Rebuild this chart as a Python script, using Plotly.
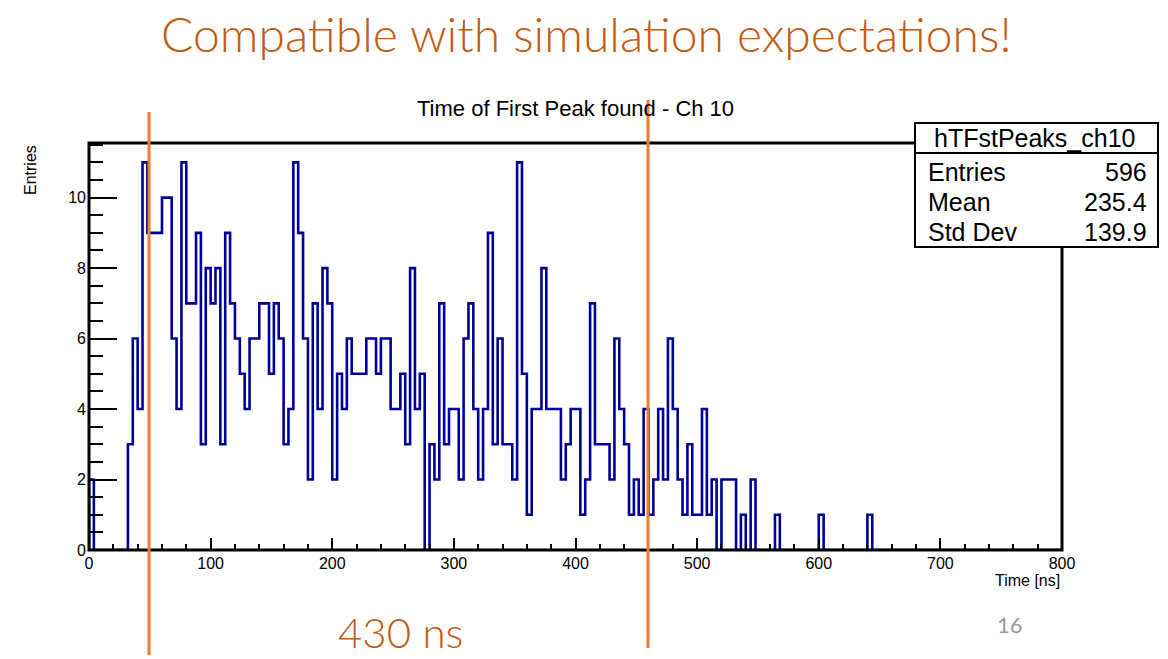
import plotly.graph_objects as go

# ---------------- data ----------------
bin_width_ns = 4
x_start_ns = 0
counts = [
    2, 0, 0, 0, 0, 0, 0, 0, 3, 6,      # 0-39
    4, 11, 9, 9, 9, 10, 10, 6, 4, 11,  # 40-79
    7, 7, 9, 3, 8, 7, 8, 3, 9, 7,      # 80-119
    6, 5, 4, 6, 6, 7, 7, 5, 7, 6,      # 120-159
    3, 4, 11, 9, 6, 2, 7, 4, 8, 7,     # 160-199
    2, 5, 4, 6, 5, 5, 5, 6, 6, 5,      # 200-239
    6, 6, 4, 4, 5, 3, 8, 4, 5, 0,      # 240-279
    3, 2, 7, 3, 4, 4, 2, 6, 7, 4,      # 280-319
    2, 4, 9, 3, 6, 3, 3, 2, 11, 5,     # 320-359
    1, 4, 4, 8, 4, 4, 4, 2, 3, 4,      # 360-399
    4, 1, 2, 7, 3, 3, 3, 2, 6, 4,      # 400-439
    3, 1, 2, 1, 4, 1, 2, 4, 2, 6,      # 440-479
    4, 2, 1, 3, 1, 1, 4, 1, 2, 0,      # 480-519
    2, 2, 2, 0, 1, 0, 2, 0, 0, 0,      # 520-559
    0, 1, 0, 0, 0, 0, 0, 0, 0, 0,      # 560-599
    1, 0, 0, 0, 0, 0, 0, 0, 0, 0,      # 600-639
    1, 0, 0, 0, 0, 0, 0, 0, 0, 0,      # 640-679
    0, 0, 0, 0, 0, 0, 0, 0, 0, 0,      # 680-719
    0, 0, 0, 0, 0, 0, 0, 0, 0, 0,      # 720-759
    0, 0, 0, 0, 0, 0, 0, 0, 0, 0,      # 760-799
]
x_range = [0, 800]
y_range = [0, 11.55]
x_tickvals = [0, 100, 200, 300, 400, 500, 600, 700, 800]
y_tickvals = [0, 2, 4, 6, 8, 10]

slide_title = "Compatible with simulation expectations!"
hist_title = "Time of First Peak found - Ch 10"
x_title = "Time [ns]"
y_title = "Entries"
stats_name = "hTFstPeaks_ch10"
stats_labels = ["Entries", "Mean", "Std Dev"]
stats_values = ["596", "235.4", "139.9"]
window_label = "430 ns"
page_number = "16"

# ---------------- geometry helpers ----------------
W, H = 1168, 659
L, R, T, B = 89, 1062, 143, 550   # plot area in pixels


def px(x, y):
    """pixel -> paper coordinates"""
    return (x - L) / (R - L), (B - y) / (B - T)


# step outline built from the bins
edges = [x_start_ns + i * bin_width_ns for i in range(len(counts) + 1)]
xs = [edges[0]] + edges
ys = [0] + counts + [counts[-1]]

fig = go.Figure()
fig.add_trace(go.Scatter(
    x=xs, y=ys, mode="lines", line=dict(shape="hv", color="#000099", width=2.6),
    hoverinfo="skip", showlegend=False))

axis_font = dict(family="Liberation Sans, Arial, sans-serif", size=16, color="black")
fig.update_xaxes(
    range=x_range, tickvals=x_tickvals, ticks="inside", ticklen=12, tickwidth=2,
    tickcolor="black", showline=False, showgrid=False, zeroline=False, tickfont=axis_font,
    layer="above traces", ticklabelstandoff=2,
    minor=dict(dtick=20, ticks="inside", ticklen=6, tickwidth=2, tickcolor="black", showgrid=False))
fig.update_yaxes(
    range=y_range, tickvals=y_tickvals, ticks="inside", ticklen=28, tickwidth=2,
    tickcolor="black", showline=False, showgrid=False, zeroline=False, tickfont=axis_font,
    layer="above traces", ticklabelstandoff=2,
    minor=dict(dtick=0.5, ticks="inside", ticklen=14, tickwidth=2, tickcolor="black", showgrid=False))

shapes = []
annotations = []

# frame of the pad (drawn over the histogram so the zero level hides under it)
shapes.append(dict(type="rect", xref="paper", yref="paper", x0=0, x1=1, y0=0, y1=1,
                   line=dict(color="black", width=3), layer="above"))

# orange marker lines (slide overlay)
for xp, y0p, y1p in [(149, 112, 655), (648, 100, 648)]:
    ax, ay0 = px(xp, y0p)
    _, ay1 = px(xp, y1p)
    shapes.append(dict(type="line", xref="paper", yref="paper", x0=ax, x1=ax, y0=ay0, y1=ay1,
                       line=dict(color="#ED7D31", width=3), layer="above"))

# stats box
bx0, by0 = px(915, 123)
bx1, by1 = px(1158, 247)
shapes.append(dict(type="rect", xref="paper", yref="paper", x0=bx0, x1=bx1, y0=by1, y1=by0,
                   fillcolor="white", line=dict(color="black", width=2), layer="above"))
sx0, sy = px(915, 153)
sx1, _ = px(1158, 153)
shapes.append(dict(type="line", xref="paper", yref="paper", x0=sx0, x1=sx1, y0=sy, y1=sy,
                   line=dict(color="black", width=2), layer="above"))

stat_font = dict(family="Liberation Sans, Arial, sans-serif", size=25, color="black")
hx, hy = px(1035, 138)
annotations.append(dict(x=hx, y=hy, xref="paper", yref="paper", text=stats_name, showarrow=False,
                        xanchor="center", yanchor="middle", font=stat_font))
for i, (lab, val) in enumerate(zip(stats_labels, stats_values)):
    yy = 172 + 30 * i
    lx, ly = px(926, yy)
    rx, _ = px(1149, yy)
    annotations.append(dict(x=lx, y=ly, xref="paper", yref="paper", text=lab, showarrow=False,
                            xanchor="left", yanchor="middle", font=stat_font))
    annotations.append(dict(x=rx, y=ly, xref="paper", yref="paper", text=val, showarrow=False,
                            xanchor="right", yanchor="middle", font=stat_font))

# histogram title
tx, ty = px(575, 108)
annotations.append(dict(x=tx, y=ty, xref="paper", yref="paper", text=hist_title, showarrow=False,
                        xanchor="center", yanchor="middle",
                        font=dict(family="Liberation Sans, Arial, sans-serif", size=22, color="black")))
# axis titles
ax_, ay_ = px(1062, 580)
annotations.append(dict(x=ax_, y=ay_, xref="paper", yref="paper", text=x_title, showarrow=False,
                        xanchor="right", yanchor="middle", font=axis_font))
ax_, ay_ = px(30, 143)
annotations.append(dict(x=ax_, y=ay_, xref="paper", yref="paper", text=y_title, showarrow=False,
                        textangle=-90, xanchor="center", yanchor="top", font=axis_font))

# slide texts
sx, sy = px(586, 33)
annotations.append(dict(x=sx, y=sy, xref="paper", yref="paper", text=slide_title, showarrow=False,
                        xanchor="center", yanchor="middle",
                        font=dict(family="Lato, Open Sans, sans-serif", size=48, color="#C55A11",
                                  weight=300)))
wx, wy = px(400, 659)
annotations.append(dict(x=wx, y=wy, xref="paper", yref="paper", text=window_label, showarrow=False,
                        xanchor="center", yanchor="bottom",
                        font=dict(family="Lato, Open Sans, sans-serif", size=42, color="#C55A11",
                                  weight=300)))
nx, ny = px(1010, 624)
annotations.append(dict(x=nx, y=ny, xref="paper", yref="paper", text=page_number, showarrow=False,
                        xanchor="center", yanchor="middle",
                        font=dict(family="Lato, Open Sans, sans-serif", size=22, color="#9a9a9a")))

fig.update_layout(
    width=W, height=H, autosize=False,
    margin=dict(l=L, r=W - R, t=T, b=H - B, pad=0),
    paper_bgcolor="white", plot_bgcolor="white",
    shapes=shapes, annotations=annotations, showlegend=False)

fig.write_html("out.html")
